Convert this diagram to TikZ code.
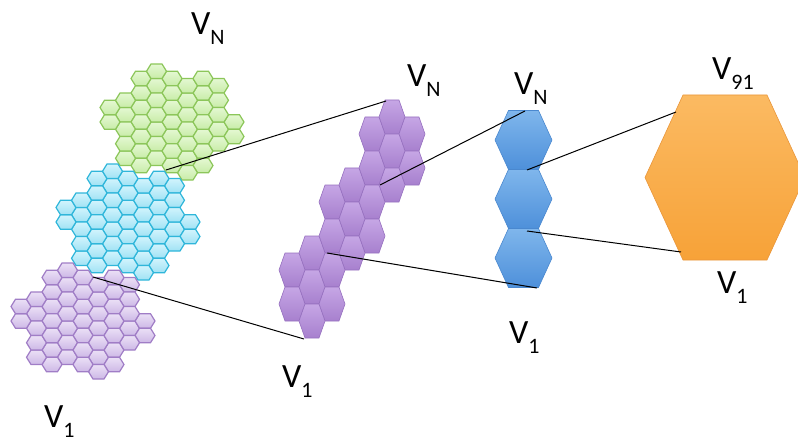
\documentclass[tikz,border=0pt]{standalone}
\usepackage{fontspec}
\setmainfont{Carlito}
\definecolor{gtop}{HTML}{E4F8D2}
\definecolor{gbot}{HTML}{C8ECA8}
\definecolor{gline}{HTML}{8CC65A}
\definecolor{ctop}{HTML}{D2F4FD}
\definecolor{cbot}{HTML}{A0E2F4}
\definecolor{cline}{HTML}{2FB6DA}
\definecolor{ptop}{HTML}{EBE0F6}
\definecolor{pbot}{HTML}{CDB8E6}
\definecolor{pline}{HTML}{A07DC6}
\definecolor{mtop}{HTML}{C6A6E5}
\definecolor{mbot}{HTML}{A780CE}
\definecolor{mline}{HTML}{9670BF}
\definecolor{btop}{HTML}{7FB6EC}
\definecolor{bbot}{HTML}{4E90DA}
\definecolor{bline}{HTML}{4A88CF}
\definecolor{otop}{HTML}{FBBA62}
\definecolor{obot}{HTML}{F7A238}
\definecolor{oline}{HTML}{E9963A}
\tikzset{
  lbl/.style={anchor=base west, inner sep=0pt, font=\fontsize{34}{34}\selectfont},
  conn/.style={draw=black, line width=1pt},
  gcell/.style={draw=gline, line width=1.2pt, top color=gtop, bottom color=gbot},
  ccell/.style={draw=cline, line width=1.2pt, top color=ctop, bottom color=cbot},
  pcell/.style={draw=pline, line width=1.2pt, top color=ptop, bottom color=pbot},
  mcell/.style={draw=mline, line width=0.6pt, top color=mtop, bottom color=mbot},
  bcell/.style={draw=bline, line width=0.6pt, top color=btop, bottom color=bbot},
  ocell/.style={draw=oline, line width=0.6pt, top color=otop, bottom color=obot},
}
\newcommand\Vsub[1]{V\raisebox{-10pt}{\fontsize{22}{22}\selectfont #1}}
\newcommand\hexat[5]{(#1-#3,#2) -- (#1-#4,#2-#5) -- (#1+#4,#2-#5) -- (#1+#3,#2) -- (#1+#4,#2+#5) -- (#1-#4,#2+#5) -- cycle}
\newcommand\hexcluster[3]{%
  \foreach \fq/\fr in {0/0,2/1,-1/3,-3/2,-2/-1,1/-3,3/-2}{%
    \foreach \dq/\dr in {0/0,1/0,1/-1,0/-1,-1/0,-1/1,0/1}{%
      \pgfmathsetmacro\qq{\fq+\dq}%
      \pgfmathsetmacro\rr{\fr+\dr}%
      \pgfmathsetmacro\hx{#1+15.5*\qq}%
      \pgfmathsetmacro\hy{#2-14.5*(\rr+0.5*\qq)}%
      \path[#3] \hexat{\hx}{\hy}{10}{5.5}{7.25};
    }}}
\begin{document}
\begin{tikzpicture}[x=1pt,y=-1pt]
\useasboundingbox (0,0) rectangle (798,441);
\clip (0,0) rectangle (798,441);
% small clusters
\hexcluster{172}{122}{gcell}
\hexcluster{128}{222}{ccell}
\hexcluster{83}{321}{pcell}
% medium purple column
\foreach \c/\h in {5/0,4/1,6/1,5/2,4/3,6/3,3/4,5/4,2/5,4/5,3/6,2/7,4/7,1/8,3/8,0/9,2/9,1/10,0/11,2/11,1/12}{
  \pgfmathsetmacro\hx{292+20*\c}
  \pgfmathsetmacro\hy{117+17*\h}
  \path[mcell] \hexat{\hx}{\hy}{13}{7}{17};
}
% blue column
\foreach \hy in {140,199,258}{
  \path[bcell] \hexat{523.5}{\hy}{28.5}{15}{29.5};
}
% orange hexagon
\path[ocell] \hexat{725}{177.5}{80}{42}{82.5};
% connector end points
\coordinate (gA) at (166,170);
\coordinate (mTop) at (386,101);
\coordinate (pA) at (93,277);
\coordinate (mBot) at (304,339);
\coordinate (mA) at (380,185);
\coordinate (bTop) at (525,111);
\coordinate (mB) at (327,253);
\coordinate (bBot) at (537,288);
\coordinate (bJ1) at (527,170);
\coordinate (oTop) at (676,112);
\coordinate (bJ2) at (527,231);
\coordinate (oBot) at (681,252);
\draw[conn] (gA) -- (mTop);
\draw[conn] (pA) -- (mBot);
\draw[conn] (mA) -- (bTop);
\draw[conn] (mB) -- (bBot);
\draw[conn] (bJ1) -- (oTop);
\draw[conn] (bJ2) -- (oBot);
% labels
\node[lbl] (l1) at (191,35) {\Vsub{N}};
\node[lbl] (l2) at (44,427) {\Vsub{1}};
\node[lbl] (l3) at (407,87) {\Vsub{N}};
\node[lbl] (l4) at (282,387) {\Vsub{1}};
\node[lbl] (l5) at (514,95) {\Vsub{N}};
\node[lbl] (l6) at (509,343) {\Vsub{1}};
\node[lbl] (l7) at (712,80) {\Vsub{91}};
\node[lbl] (l8) at (717,293) {\Vsub{1}};
\end{tikzpicture}
\end{document}
